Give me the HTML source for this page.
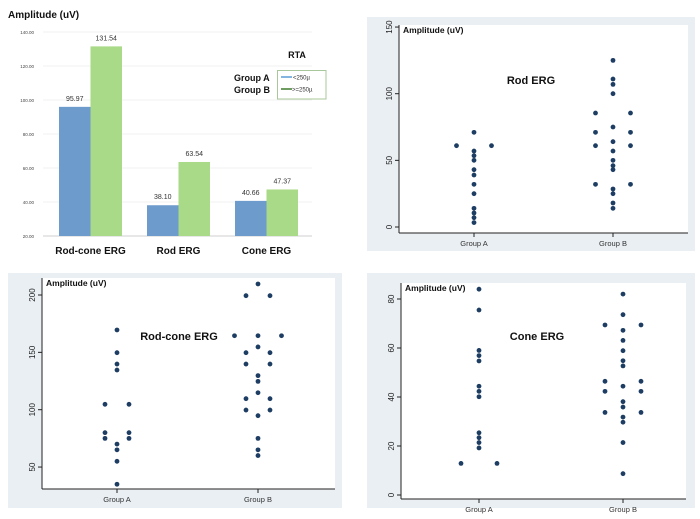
<!DOCTYPE html>
<html><head><meta charset="utf-8"><style>
html,body{margin:0;padding:0;background:#fff;}
svg{display:block;font-family:"Liberation Sans",Arial,sans-serif;}
</style></head><body>
<svg id="svg" width="700" height="519" viewBox="0 0 700 519" xmlns="http://www.w3.org/2000/svg">
</svg>
<script>
// ---- Bar chart data ----
const barCategories = ["Rod-cone ERG", "Rod ERG", "Cone ERG"];
const barGroupA = [95.97, 38.10, 40.66];
const barGroupB = [131.54, 63.54, 47.37];
const barLabelsA = ["95.97", "38.10", "40.66"];
const barLabelsB = ["131.54", "63.54", "47.37"];
const barTicks = [20, 40, 60, 80, 100, 120, 140];

// ---- Rod ERG scatter ----
const rodTicks = [0, 50, 100, 150];
const rodAcenter = [71, 57, 53.5, 50, 43, 39, 32, 25, 14, 10.5, 7, 3.3];
const rodAside1 = [61];
const rodBcenter = [125, 111, 107, 100, 75, 64, 57, 50, 46, 43, 28.5, 25, 18, 14];
const rodBside1 = [85.5, 71, 61, 32];

// ---- Rod-cone ERG scatter ----
const rcTicks = [50, 100, 150, 200];
const rcAcenter = [169.5, 149.7, 139.8, 134.6, 70, 65, 55, 35];
const rcAside1 = [104.7, 80, 75];
const rcBcenter = [209.6, 164.5, 154.7, 129.7, 124.7, 114.8, 94.8, 75, 65, 60];
const rcBside1 = [199.4, 149.7, 139.8, 109.6, 99.7];
const rcBside2 = [164.5];

// ---- Cone ERG scatter ----
const coneTicks = [0, 20, 40, 60, 80];
const coneAcenter = [84, 75.5, 59, 56.9, 54.7, 44.4, 42.3, 40.1, 25.4, 23.4, 21.4, 19.2];
const coneAside1 = [12.9];
const coneBcenter = [82, 73.6, 67.2, 63.1, 58.9, 54.8, 52.7, 44.4, 38.1, 35.9, 31.8, 29.7, 21.4, 8.7];
const coneBside1 = [69.4, 46.4, 42.3, 33.7];

const NS = "http://www.w3.org/2000/svg";
const svg = document.getElementById("svg");
function mk(tag, attrs, parent, text) {
  const e = document.createElementNS(NS, tag);
  for (const k in attrs) e.setAttribute(k, attrs[k]);
  if (text !== undefined) e.textContent = text;
  (parent || svg).appendChild(e);
  return e;
}

// ===== Bar chart =====
(function () {
  const g = mk("g", {});
  
  
  const y = v => 236 - (v - 20) * 1.7;
  const t = mk("text", {x: 8, y: 18, "font-size": 10, "font-weight": "bold", fill: "#111"}, g, "Amplitude (uV)");
  
  
  barTicks.forEach(v => {
    const gl = mk("line", {x1: 43, x2: 312, y1: y(v), y2: y(v), stroke: v === 20 ? "#cfcfcf" : "#f0f0f0", "stroke-width": 1}, g);
    
    
    const tl = mk("text", {x: 34, y: y(v) + 2, "font-size": 4.5, "text-anchor": "end", fill: "#444"}, g, v.toFixed(2));
    
    
  });
  const starts = [59, 147, 235];
  const bw = 31.5;
  barCategories.forEach((c, i) => {
    const x0 = starts[i];
    const ra = mk("rect", {x: x0, y: y(barGroupA[i]), width: bw, height: y(20) - y(barGroupA[i]), fill: "#6c9bcc"}, g);
    
    
    const rb = mk("rect", {x: x0 + bw, y: y(barGroupB[i]), width: bw, height: y(20) - y(barGroupB[i]), fill: "#a9da88"}, g);
    
    
    const la = mk("text", {x: x0 + bw / 2, y: y(barGroupA[i]) - 6, "font-size": 7, "text-anchor": "middle", fill: "#333"}, g, barLabelsA[i]);
    
    
    const lb = mk("text", {x: x0 + bw * 1.5, y: y(barGroupB[i]) - 6, "font-size": 7, "text-anchor": "middle", fill: "#333"}, g, barLabelsB[i]);
    
    
    const cl = mk("text", {x: x0 + bw, y: 254, "font-size": 10, "font-weight": "bold", "text-anchor": "middle", fill: "#111"}, g, c);
    
    
  });
  const lg = mk("g", {}, g);
  
  
  mk("text", {x: 297, y: 58, "font-size": 9, "font-weight": "bold", "text-anchor": "middle", fill: "#111"}, lg, "RTA");
  mk("rect", {x: 277.5, y: 70.5, width: 48.5, height: 28.5, fill: "#fff", stroke: "#a8c79a", "stroke-width": 1}, lg);
  mk("text", {x: 234, y: 81, "font-size": 9, "font-weight": "bold", fill: "#111"}, lg, "Group A");
  mk("text", {x: 234, y: 93, "font-size": 9, "font-weight": "bold", fill: "#111"}, lg, "Group B");
  mk("line", {x1: 281, x2: 292, y1: 77, y2: 77, stroke: "#5b9bd5", "stroke-width": 1.5}, lg);
  mk("line", {x1: 281, x2: 292, y1: 89, y2: 89, stroke: "#3f7a2a", "stroke-width": 1.5}, lg);
  mk("text", {x: 293, y: 79.5, "font-size": 6, fill: "#333"}, lg, "<250µ");
  mk("text", {x: 292, y: 91.5, "font-size": 6, fill: "#333"}, lg, ">=250µ");
})();

// ===== Scatter panels =====
function scatter(o) {
  const g = mk("g", {});
  
  
  const bg = mk("rect", {x: o.bg[0], y: o.bg[1], width: o.bg[2] - o.bg[0], height: o.bg[3] - o.bg[1], fill: "#eaeff3"}, g);
  
  
  const pl = mk("rect", {x: o.ax, y: o.top, width: o.right - o.ax, height: o.axy - o.top, fill: "#fff"}, g);
  
  
  const y = v => o.y0 - (v - o.v0) * o.k;
  mk("line", {x1: o.ax, x2: o.ax, y1: o.top, y2: o.axy, stroke: "#222", "stroke-width": 1}, g);
  mk("line", {x1: o.ax, x2: o.right, y1: o.axy, y2: o.axy, stroke: "#222", "stroke-width": 1}, g);
  o.ticks.forEach(v => {
    mk("line", {x1: o.ax - 4, x2: o.ax, y1: y(v), y2: y(v), stroke: "#222"}, g);
    const tl = mk("text", {x: o.ax - 7, y: y(v), "font-size": 8, "text-anchor": "middle", fill: "#222", transform: `rotate(-90 ${o.ax - 7} ${y(v)})`}, g, String(v));
    
    
  });
  [[o.xa, "Group A"], [o.xb, "Group B"]].forEach(([x, s]) => {
    mk("line", {x1: x, x2: x, y1: o.axy, y2: o.axy + 4, stroke: "#222"}, g);
    const gl = mk("text", {x: x, y: o.axy + 13, "font-size": 7.5, "text-anchor": "middle", fill: "#333"}, g, s);
    
    
  });
  const at = mk("text", {x: o.ax + 4, y: o.top + 8, "font-size": 8.5, "font-weight": "bold", fill: "#111"}, g, "Amplitude (uV)");
  
  
  const tt = mk("text", {x: o.tx, y: o.ty, "font-size": 11, "font-weight": "bold", "text-anchor": "middle", fill: "#111"}, g, o.title);
  
  
  const dot = (x, v) => {
    const c = mk("circle", {cx: x, cy: y(v), r: 2.4, fill: "#1d3d63"}, g);
    
    
  };
  o.series.forEach(s => s.vals.forEach(v => s.offs.forEach(d => dot(s.x + d, v))));
}

scatter({name: "rod-erg-panel", bg: [367, 17, 695, 251], ax: 399, right: 688, top: 25, axy: 233,
  y0: 227, v0: 0, k: 1.333, ticks: rodTicks, xa: 474, xb: 613, title: "Rod ERG", tx: 531, ty: 84,
  series: [
    {x: 474, offs: [0], vals: rodAcenter}, {x: 474, offs: [-17.5, 17.5], vals: rodAside1},
    {x: 613, offs: [0], vals: rodBcenter}, {x: 613, offs: [-17.5, 17.5], vals: rodBside1}]});

scatter({name: "rod-cone-erg-panel", bg: [8, 273, 342, 508], ax: 42, right: 335, top: 278, axy: 489,
  y0: 295, v0: 200, k: 1.147, ticks: rcTicks, xa: 117, xb: 258, title: "Rod-cone ERG", tx: 179, ty: 340,
  series: [
    {x: 117, offs: [0], vals: rcAcenter}, {x: 117, offs: [-12, 12], vals: rcAside1},
    {x: 258, offs: [0], vals: rcBcenter}, {x: 258, offs: [-12, 12], vals: rcBside1},
    {x: 258, offs: [-23.5, 23.5], vals: rcBside2}]});

scatter({name: "cone-erg-panel", bg: [367, 273, 695, 508], ax: 401, right: 686, top: 283, axy: 499,
  y0: 495, v0: 0, k: 2.45, ticks: coneTicks, xa: 479, xb: 623, title: "Cone ERG", tx: 537, ty: 340,
  series: [
    {x: 479, offs: [0], vals: coneAcenter}, {x: 479, offs: [-18, 18], vals: coneAside1},
    {x: 623, offs: [0], vals: coneBcenter}, {x: 623, offs: [-18, 18], vals: coneBside1}]});
</script>
</body></html>
